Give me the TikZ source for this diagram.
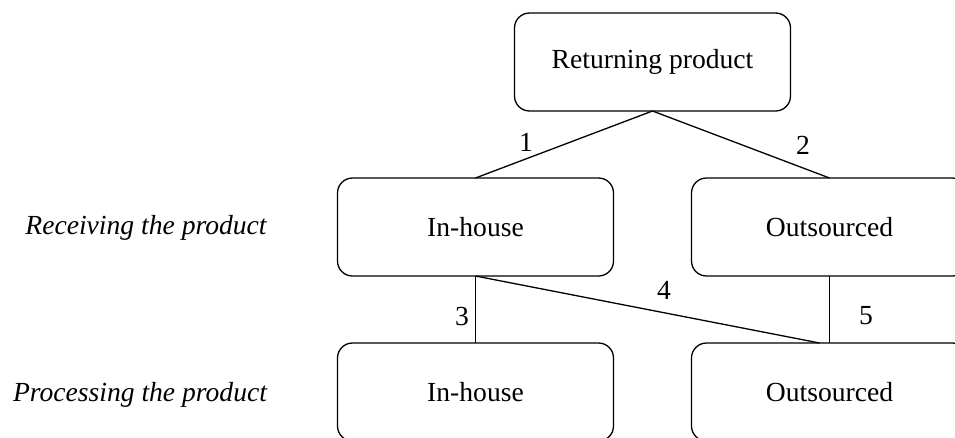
\documentclass[tikz,border=0pt]{standalone}
\usepackage{fontspec}
\setmainfont{Liberation Serif}
\begin{document}
\begin{tikzpicture}[x=1pt,y=-1pt,
  box/.style={draw, rounded corners=15pt, line width=1.3pt, inner sep=0pt, outer sep=0pt,
    minimum width=276pt, minimum height=98pt, font=\fontsize{27.6}{33}\selectfont},
  lab/.style={inner sep=0pt, font=\fontsize{27.6}{33}\selectfont},
  side/.style={inner sep=0pt, font=\fontsize{27.6}{33}\selectfont\itshape},
  conn/.style={line width=1.3pt}]
\clip (0,0) rectangle (955,437);
\useasboundingbox (0,0) rectangle (955,437);
\node[box] (top) at (652.5,62) {Returning product};
\node[box] (ml) at (475.5,227) {In-house};
\node[box] (mr) at (829.5,227) {Outsourced};
\node[box] (bl) at (475.5,392) {In-house};
\node[box] (br) at (829.5,392) {Outsourced};
\node[side] (recv) at (146,228) {Receiving the product};
\node[side] (proc) at (140,395) {Processing the product};
\draw[conn] (top.south) -- (ml.north);
\draw[conn] (top.south) -- (mr.north);
\draw[conn] (ml.south) -- (bl.north);
\draw[conn] (mr.south) -- (br.north);
\coordinate (e4) at ([xshift=-10pt]br.north);
\draw[conn] (ml.south) -- (e4);
\node[lab] (l1) at (526,142) {1};
\node[lab] (l2) at (803,145) {2};
\node[lab] (l3) at (462,316) {3};
\node[lab] (l4) at (664,290) {4};
\node[lab] (l5) at (866,316) {5};
\end{tikzpicture}
\end{document}
